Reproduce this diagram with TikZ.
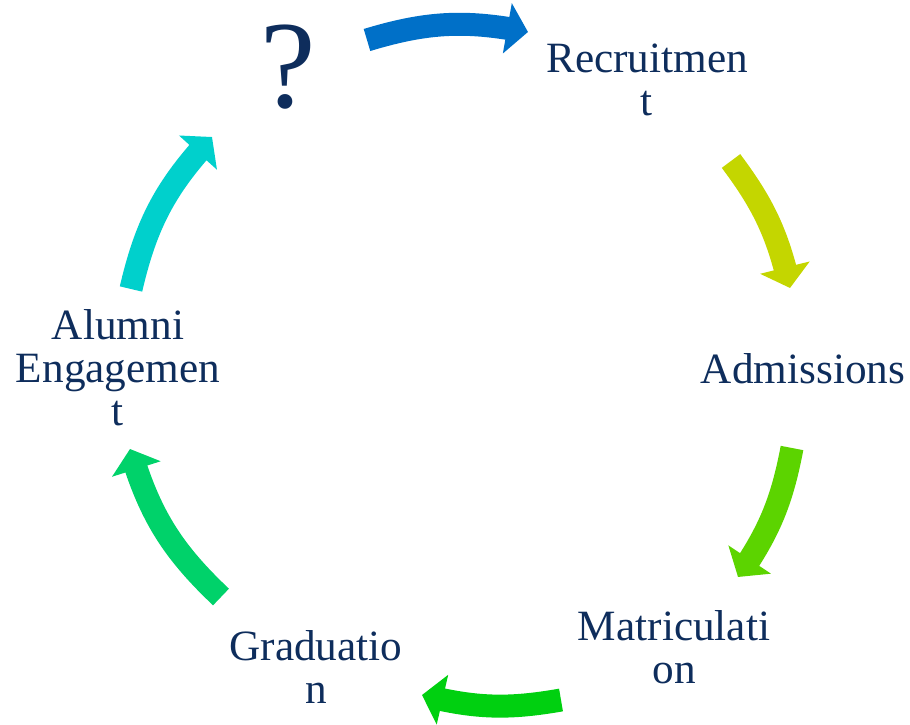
\documentclass[tikz,border=0pt]{standalone}
\usepackage{fontspec}
\setmainfont{Liberation Serif}
\usetikzlibrary{arrows.meta,bending}

\definecolor{stagetext}{RGB}{14,45,92}
\definecolor{arrA}{RGB}{0,112,200}
\definecolor{arrB}{RGB}{196,214,0}
\definecolor{arrC}{RGB}{92,212,0}
\definecolor{arrD}{RGB}{0,208,16}
\definecolor{arrE}{RGB}{0,210,106}
\definecolor{arrF}{RGB}{0,208,204}

\tikzset{
  stage/.style={text=stagetext,align=center,inner sep=0pt,font=\fontsize{24.6}{24.4}\selectfont},
  cyc/.style={line width=0.46cm,-{Triangle[width=1cm,length=0.42cm,flex]}},
}

\begin{document}
\begin{tikzpicture}[x=0.02cm,y=0.02cm]
\useasboundingbox (0,0) rectangle (910,724);
% stages of the cycle
\node[stage,font=\fontsize{71}{71}\selectfont] (q) at (288,657) {?};
\node[stage] (rec) at (647,644) {Recruitmen\\t};
\node[stage] (adm) at (803,355) {Admissions};
\node[stage] (mat) at (674,77) {Matriculati\\on};
\node[stage] (grad) at (316,57) {Graduatio\\n};
\node[stage] (alum) at (118,356) {Alumni\\Engagemen\\t};
% ends of the curved arrows
\coordinate (q-out) at (367,684);
\coordinate (rec-in) at (528,692);
\coordinate (rec-out) at (731,563);
\coordinate (adm-in) at (790,436);
\coordinate (adm-out) at (792,276);
\coordinate (mat-in) at (738,147);
\coordinate (mat-out) at (561,24);
\coordinate (grad-in) at (422,29);
\coordinate (grad-out) at (221,127);
\coordinate (alum-in) at (130,275);
\coordinate (alum-out) at (131,435);
\coordinate (q-in) at (212,587);
\foreach \a/\b/\col/\bnd in {q-out/rec-in/arrA/14,rec-out/adm-in/arrB/12,
  adm-out/mat-in/arrC/12,mat-out/grad-in/arrD/12,grad-out/alum-in/arrE/15,
  alum-out/q-in/arrF/15}
  \draw[cyc,color=\col] (\a) to[bend left=\bnd] (\b);
\end{tikzpicture}
\end{document}
